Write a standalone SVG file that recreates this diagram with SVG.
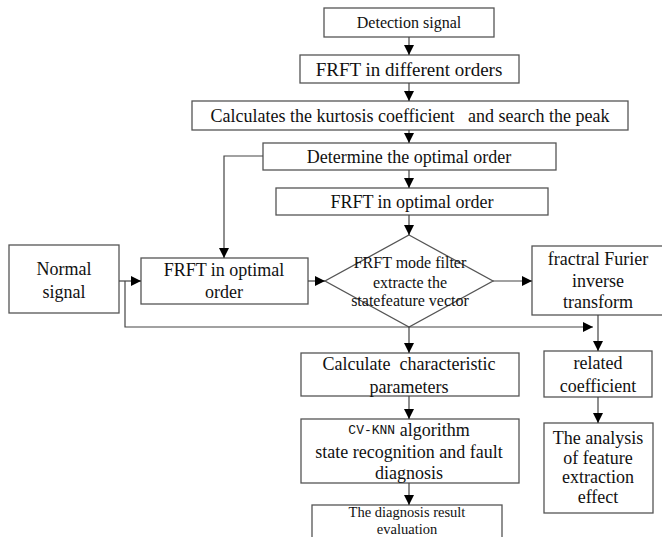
<svg xmlns="http://www.w3.org/2000/svg" width="662" height="537" viewBox="0 0 662 537">
<defs>
<marker id="ah" viewBox="0 0 10 10" refX="10" refY="5" markerWidth="10" markerHeight="10" markerUnits="userSpaceOnUse" orient="auto">
<path d="M0,0 L10,5 L0,10 Z" fill="#000"/>
</marker>
<style>
.b{fill:#fff;stroke:#555;stroke-width:1.3}
.t{font-family:"Liberation Serif","Times New Roman",serif;font-size:18px;fill:#111;text-anchor:middle;dominant-baseline:central}
.s{font-size:16px}
.r{font-size:14.5px}
.m{font-family:"Liberation Mono","Courier New",monospace;font-size:13px}
.c{fill:none;stroke:#444;stroke-width:1.2;marker-end:url(#ah)}
</style>
</defs>
<rect width="662" height="537" fill="#fff"/>
<g id="detection"><rect class="b" x="324" y="8" width="170" height="29"/><text class="t s" x="409" y="22">Detection signal</text></g>
<g id="frft-diff"><rect class="b" x="300" y="55" width="219" height="28"/><text class="t" x="409" y="69" style="font-size:19px">FRFT in different orders</text></g>
<g id="kurtosis"><rect class="b" x="192" y="101" width="436" height="29"/><text class="t" x="410" y="116" xml:space="preserve">Calculates the kurtosis coefficient   and search the peak</text></g>
<g id="determine"><rect class="b" x="263" y="143" width="293" height="27"/><text class="t" x="409" y="157">Determine the optimal order</text></g>
<g id="frft-opt"><rect class="b" x="276" y="188" width="272" height="27"/><text class="t" x="412" y="202">FRFT in optimal order</text></g>
<g id="normal"><rect class="b" x="9" y="245" width="110" height="68"/><text class="t" x="64" y="269">Normal</text><text class="t" x="64" y="292">signal</text></g>
<g id="frft-opt-left"><rect class="b" x="141" y="258" width="167" height="46"/><text class="t" x="224" y="270">FRFT in optimal</text><text class="t" x="224" y="292">order</text></g>
<g id="filter"><polygon class="b" points="409,235 493,281 409,327 325,281"/><text class="t s" x="410" y="262">FRFT mode filter</text><text class="t s" x="410" y="282">extracte the</text><text class="t s" x="410" y="300">statefeature vector</text></g>
<g id="inverse"><rect class="b" x="532" y="246" width="134" height="69"/><text class="t" x="598" y="259">fractral Furier</text><text class="t" x="598" y="281">inverse</text><text class="t" x="598" y="302">transform</text></g>
<g id="calc"><rect class="b" x="301" y="353" width="218" height="43"/><text class="t" x="409" y="364" xml:space="preserve">Calculate  characteristic</text><text class="t" x="409" y="387">parameters</text></g>
<g id="related"><rect class="b" x="544" y="351" width="108" height="46"/><text class="t" x="598" y="363">related</text><text class="t" x="598" y="386">coefficient</text></g>
<g id="cvknn"><rect class="b" x="301" y="419" width="218" height="64"/><text class="t" x="409" y="430"><tspan class="m">CV-KNN</tspan> algorithm</text><text class="t" x="409" y="452">state recognition and fault</text><text class="t" x="409" y="473">diagnosis</text></g>
<g id="analysis"><rect class="b" x="544" y="423" width="109" height="90"/><text class="t" x="598" y="438">The analysis</text><text class="t" x="598" y="458">of feature</text><text class="t" x="598" y="477">extraction</text><text class="t" x="598" y="497">effect</text></g>
<g id="result"><rect class="b" x="312" y="505" width="190" height="40"/><text class="t r" x="407" y="512">The diagnosis result</text><text class="t r" x="407" y="529">evaluation</text></g>
<g id="connectors">
<path class="c" d="M409,37 V55"/>
<path class="c" d="M409,83 V101"/>
<path class="c" d="M409,130 V143"/>
<path class="c" d="M409,170 V188"/>
<path class="c" d="M409,215 V235"/>
<path class="c" d="M263,156 H224 V258"/>
<path class="c" d="M119,281 H141"/>
<path class="c" d="M308,281 H325"/>
<path class="c" d="M493,281 H532"/>
<path class="c" d="M125,281 V327 H593"/>
<path class="c" d="M409,327 V353"/>
<path class="c" d="M598,315 V351"/>
<path class="c" d="M409,396 V419"/>
<path class="c" d="M409,483 V505"/>
<path class="c" d="M598,397 V423"/>
</g>
</svg>
